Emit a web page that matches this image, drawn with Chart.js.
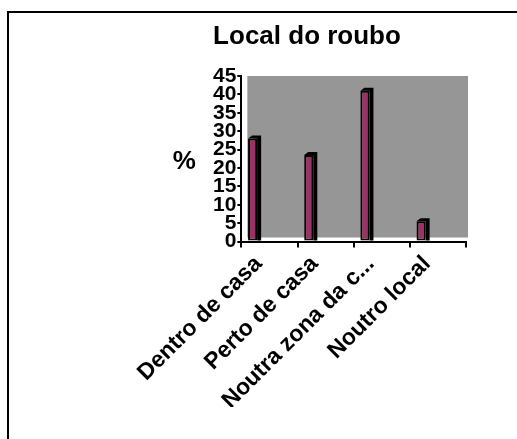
<!DOCTYPE html>
<html>
<head>
<meta charset="utf-8">
<script src="https://cdn.jsdelivr.net/npm/chart.js@4"></script>
<style>
    body { margin: 0; background: #fff; }
    #wrap { width: 517px; height: 439px; position: relative; }
</style>
</head>
<body>
<div id="wrap"><canvas id="roubo"></canvas></div>
<script>
const chartTitle = 'Local do roubo';
const categories = ['Dentro de casa', 'Perto de casa', 'Noutra zona da c...', 'Noutro local'];
const percentValues = [28, 23.5, 41, 5.5];
const emptySlot = [null, null, null, null];
const yMin = 0;
const yMax = 45;
const yStep = 5;

const FONT = '"Liberation Sans", Arial, sans-serif';

// frame, grey plot area, title and the "%" label, drawn round the chart area
const decorPlugin = {
    id: 'decor',
    beforeDraw(chart) {
        const { ctx, chartArea: a } = chart;
        ctx.save();
        ctx.strokeStyle = '#000';
        ctx.lineWidth = 2;
        ctx.beginPath();
        ctx.moveTo(8, chart.height);
        ctx.lineTo(8, 12);
        ctx.lineTo(chart.width, 12);
        ctx.stroke();
        ctx.fillStyle = '#969696';
        ctx.fillRect(a.left + 6, a.top, a.right - a.left - 4, a.bottom - a.top - 4);
        ctx.restore();
    },
    beforeDatasetsDraw(chart) {
        // 3d depth of the columns
        const { ctx } = chart;
        const meta = chart.getDatasetMeta(0);
        ctx.save();
        ctx.fillStyle = '#000';
        meta.data.forEach(bar => {
            const p = bar.getProps(['x', 'y', 'width', 'base'], true);
            const l = p.x - p.width / 2, r = p.x + p.width / 2;
            ctx.beginPath();
            ctx.moveTo(l, p.y);
            ctx.lineTo(l + 4, p.y - 3);
            ctx.lineTo(r + 4, p.y - 3);
            ctx.lineTo(r + 4, p.base);
            ctx.lineTo(r, p.base);
            ctx.lineTo(r, p.y);
            ctx.closePath();
            ctx.fill();
        });
        ctx.restore();
    },
    afterDraw(chart) {
        const { ctx, chartArea: a } = chart;
        ctx.save();
        ctx.fillStyle = '#000';
        ctx.textAlign = 'center';
        ctx.textBaseline = 'middle';
        ctx.font = 'bold 26px ' + FONT;
        ctx.fillText(chartTitle, 307, 37);
        ctx.font = 'bold 26px ' + FONT;
        ctx.fillText('%', a.left - 57, (a.top + a.bottom) / 2 + 3);
        ctx.restore();
    }
};

new Chart(document.getElementById('roubo'), {
    type: 'bar',
    data: {
        labels: categories,
        datasets: [
            {
                data: percentValues,
                backgroundColor: '#993366',
                borderColor: '#000',
                borderWidth: 2,
                borderSkipped: false
            },
            { data: emptySlot },
            { data: emptySlot }
        ]
    },
    options: {
        responsive: true,
        maintainAspectRatio: false,
        animation: false,
        categoryPercentage: 0.9,
        barPercentage: 0.54,
        layout: { padding: { left: 212, right: 51, top: 76, bottom: 32 } },
        plugins: {
            legend: { display: false },
            tooltip: { enabled: false },
            title: { display: false }
        },
        scales: {
            x: {
                grid: { drawOnChartArea: false, color: '#000', lineWidth: 2, tickLength: 6 },
                border: { color: '#000', width: 2 },
                ticks: {
                    color: '#000',
                    font: { family: FONT, size: 23, weight: 'bold' },
                    maxRotation: 45,
                    minRotation: 45,
                    labelOffset: -11,
                    padding: 3
                }
            },
            y: {
                min: yMin,
                max: yMax,
                grid: { drawOnChartArea: false, color: '#000', lineWidth: 2, tickLength: 4 },
                border: { color: '#000', width: 2 },
                ticks: {
                    stepSize: yStep,
                    autoSkip: false,
                    color: '#000',
                    padding: 1,
                    font: { family: FONT, size: 21, weight: 'bold' }
                }
            }
        }
    },
    plugins: [decorPlugin]
});
</script>
</body>
</html>
